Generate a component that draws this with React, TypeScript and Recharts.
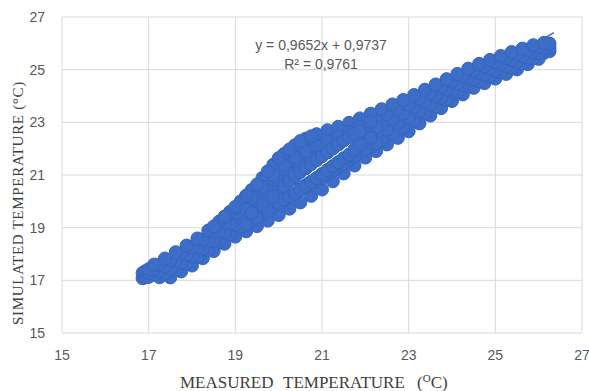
import { ScatterChart, Scatter, XAxis, YAxis, CartesianGrid, ReferenceLine, Label } from 'recharts';

const axisTicks = [15, 17, 19, 21, 23, 25, 27];

// trendline shown on the chart
const slope = 0.9652;
const intercept = 0.9737;
const rSquared = 0.9761;
const trendStartX = 16.9;
const trendEndX = 26.35;

// measured temperature positions of the point rows
const gridAX = [17, 17.25, 17.5, 17.75, 18, 18.25, 18.5, 18.75, 19, 19.25, 19.5, 19.75, 20, 20.25, 20.5, 20.75, 21, 21.25, 21.5, 21.75, 22, 22.25, 22.5, 22.75, 23, 23.25, 23.5, 23.75, 24, 24.25, 24.5, 24.75, 25, 25.25, 25.5, 25.75, 26, 26.25];
const gridBX = [17.125, 17.375, 17.625, 17.875, 18.125, 18.375, 18.625, 18.875, 19.125, 19.375, 19.625, 19.875, 20.125, 20.375, 20.625, 20.875, 21.125, 21.375, 21.625, 21.875, 22.125, 22.375, 22.625, 22.875, 23.125, 23.375, 23.625, 23.875, 24.125, 24.375, 24.625, 24.875, 25.125, 25.375, 25.625, 25.875, 26.125];

// simulated temperatures, bottom of the cloud to the top
const row0Y = [17.13, 17.12, 17.11, 17.34, 17.56, 17.84, 18.11, 18.39, 18.66, 18.86, 19.06, 19.27, 19.48, 19.72, 19.96, 20.21, 20.45, 20.76, 21.06, 21.36, 21.66, 21.91, 22.16, 22.41, 22.66, 22.96, 23.26, 23.54, 23.81, 24.06, 24.31, 24.49, 24.66, 24.84, 25.01, 25.21, 25.41, 25.7];
const row1Y = [17.22, 17.25, 17.39, 17.62, 17.88, 18.15, 18.45, 18.74, 19.01, 19.25, 19.51, 19.78, 20.04, 20.29, 20.54, 20.77, 21.02, 21.29, 21.56, 21.84, 22.1, 22.33, 22.57, 22.8, 23.06, 23.34, 23.61, 23.86, 24.12, 24.36, 24.56, 24.73, 24.9, 25.07, 25.25, 25.43, 25.64];
const row2Y = [17.27, 17.36, 17.44, 17.68, 17.91, 18.2, 18.48, 18.8, 19.11, 19.4, 19.69, 20.02, 20.34, 20.78, 21.12, 20.73, 21.03, 21.33, 21.63, 21.96, 22.29, 22.51, 22.73, 22.95, 23.17, 23.43, 23.69, 23.94, 24.18, 24.41, 24.64, 24.81, 24.97, 25.14, 25.3, 25.47, 25.64, 25.84];
const row3Y = [17.41, 17.54, 17.73, 17.97, 18.23, 18.52, 18.84, 19.17, 19.5, 19.84, 20.2, 20.59, 20.92, 21.21, 21.46, 21.66, 21.86, 22.16, 22.45, 22.68, 22.71, 22.92, 23.12, 23.33, 23.55, 23.79, 24.02, 24.25, 24.48, 24.7, 24.89, 25.05, 25.21, 25.37, 25.52, 25.68, 25.83];
const row4Y = [17.42, 17.6, 17.77, 18.02, 18.26, 18.56, 18.85, 19.21, 19.56, 19.95, 20.32, 20.77, 21.21, 21.52, 21.82, 22.02, 22.2, 22.37, 22.52, 22.73, 22.92, 23.12, 23.3, 23.5, 23.68, 23.9, 24.12, 24.34, 24.55, 24.76, 24.97, 25.13, 25.28, 25.44, 25.59, 25.74, 25.87, 25.99];
const row5Y = [17.6, 17.83, 18.07, 18.32, 18.59, 18.89, 19.23, 19.6, 20.0, 20.43, 20.89, 21.39, 21.8, 22.13, 22.38, 22.55, 22.7, 22.83, 22.98, 23.15, 23.33, 23.5, 23.68, 23.85, 24.04, 24.24, 24.44, 24.64, 24.84, 25.04, 25.22, 25.37, 25.52, 25.67, 25.8, 25.93, 26.02];

// extra rows where the cloud is widest
const wideAX = [19.25, 19.5, 19.75, 20, 20.25, 20.5, 20.75, 21, 21.25, 21.5, 21.75, 22, 22.25];
const wideA1Y = [19.13, 19.38, 19.64, 19.91, 20.17, 20.43, 20.66, 20.89, 21.16, 21.43, 21.7, 21.98, 22.21];
const wideA2Y = [19.68, 20.01, 20.39, 20.78, 21.07, 21.36, 21.57, 21.76, 22.01, 22.31, 22.56, 22.61, 22.82];
const wideBX = [19.375, 19.625, 19.875, 20.125, 20.375, 20.625, 20.875, 21.125, 21.375, 21.625, 21.875, 22.125];
const wideB1Y = [19.55, 19.86, 20.18, 20.59, 20.97, 21.26, 20.88, 21.18, 21.48, 21.77, 22.15, 22.41];
const wideB2Y = [20.14, 20.55, 20.99, 21.36, 21.67, 21.92, 22.11, 22.28, 22.45, 22.63, 22.82, 23.02];

// steep upper edge of the heating branch
const edgeX = [18.5, 18.75, 19, 19.25, 19.5, 19.75, 20, 20.25, 20.5, 20.75];
const edgeY = [19.04, 19.42, 19.79, 20.22, 20.64, 21.14, 21.64, 21.97, 22.29, 22.47];

// rows on both sides of the thin open loop
const loopX = [20.125, 20.25, 20.375, 20.5, 20.625, 20.75, 20.875, 21, 21.125, 21.25, 21.375, 21.5, 21.625, 21.75, 21.875];
const loopLowY = [20.07, 20.18, 20.29, 20.44, 20.58, 20.73, 20.88, 21.03, 21.18, 21.33, 21.48, 21.63, 21.77, 21.96, 22.15];
const loopHighY = [20.59, 20.78, 20.97, 21.12, 21.26, 21.41, 21.56, 21.71, 21.86, 22.01, 22.16, 22.31, 22.45, 22.56, 22.67];

// start of the cloud around 17 °C
const startX = [16.86, 16.86, 16.93, 16.93];
const startY = [17.08, 17.28, 17.12, 17.35];

const pairs = (xs: number[], ys: number[]) => xs.map((x, i) => ({ x, y: ys[i] }));

const points = [
  ...pairs(startX, startY),
  ...pairs(gridAX, row0Y),
  ...pairs(gridBX, row1Y),
  ...pairs(gridAX, row2Y),
  ...pairs(gridBX, row3Y),
  ...pairs(gridAX, row4Y),
  ...pairs(gridBX, row5Y),
  ...pairs(wideAX, wideA1Y),
  ...pairs(wideAX, wideA2Y),
  ...pairs(wideBX, wideB1Y),
  ...pairs(wideBX, wideB2Y),
  ...pairs(edgeX, edgeY),
  ...pairs(loopX, loopLowY),
  ...pairs(loopX, loopHighY),
];

const comma = (v: number) => v.toFixed(4).replace('.', ',');

const tickStyle = { fill: '#595959', fontSize: 14, fontFamily: '"Liberation Sans", Arial, sans-serif' };
const serif = '"Liberation Serif", "Times New Roman", serif';

const Marker = (props: any) => (
  <circle cx={props.cx} cy={props.cy} r={6.5} fill="#3d6dc6" stroke="#3465bf" strokeWidth={1} />
);

const App = () => {
  return (
    <div style={{ position: 'absolute', left: 0, top: 0, background: '#fff' }}>
      <ScatterChart width={589} height={391} margin={{ top: 17, right: 7, bottom: 0, left: 0 }}>
        <CartesianGrid stroke="#d9d9d9" />
        <XAxis
          type="number"
          dataKey="x"
          domain={[15, 27]}
          ticks={axisTicks}
          height={58}
          axisLine={false}
          tickLine={false}
          tickSize={0}
          tickMargin={17}
          tick={tickStyle}
        >
          <Label
            content={() => (
              <text fill="#404040" fontSize={17} fontFamily={serif} y={388}>
                <tspan x={180}>MEASURED</tspan>
                <tspan x={283}>TEMPERATURE</tspan>
                <tspan x={417}>(</tspan>
                <tspan dy={-6} fontSize={11}>O</tspan>
                <tspan dy={6}>C)</tspan>
              </text>
            )}
          />
        </XAxis>
        <YAxis
          type="number"
          dataKey="y"
          domain={[15, 27]}
          ticks={axisTicks}
          width={62}
          axisLine={false}
          tickLine={false}
          tickSize={0}
          tickMargin={17}
          tick={tickStyle}
        >
          <Label
            content={() => (
              <g>
                <text
                  x={23}
                  y={203}
                  transform="rotate(-90, 23, 203)"
                  textAnchor="middle"
                  fill="#404040"
                  fontSize={15}
                  letterSpacing={0.7}
                  fontFamily={serif}
                >
                  SIMULATED TEMPERATURE (°C)
                </text>
                <text x={321} y={50} textAnchor="middle" fill="#595959" fontSize={14} fontFamily={tickStyle.fontFamily}>
                  {`y = ${comma(slope)}x + ${comma(intercept)}`}
                </text>
                <text x={321} y={69} textAnchor="middle" fill="#595959" fontSize={14} fontFamily={tickStyle.fontFamily}>
                  {`R² = ${comma(rSquared)}`}
                </text>
              </g>
            )}
          />
        </YAxis>
        <Scatter data={points} shape={Marker} isAnimationActive={false} />
        <ReferenceLine
          segment={[
            { x: trendStartX, y: slope * trendStartX + intercept },
            { x: trendEndX, y: slope * trendEndX + intercept },
          ]}
          stroke="#3a68c0"
          strokeWidth={1.5}
        />
      </ScatterChart>
    </div>
  );
};

export default App;
